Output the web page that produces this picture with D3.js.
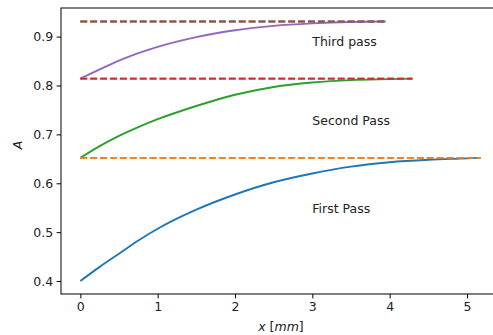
<!DOCTYPE html>
<html>
<head>
<meta charset="utf-8">
<script src="https://cdn.jsdelivr.net/npm/d3@7"></script>
<style>
  body { margin: 0; background: #fff; }
  svg { font-family: "DejaVu Sans", sans-serif; }
</style>
</head>
<body>
<div id="chart"></div>
<script>
// Values
const firstX  = [0, 0.25, 0.5, 0.75, 1, 1.5, 2, 2.5, 3, 3.5, 4, 4.5, 5, 5.15];
const firstA  = [0.400, 0.429, 0.456, 0.483, 0.507, 0.546, 0.577, 0.602, 0.620, 0.634, 0.643, 0.648, 0.651, 0.652];
const secondX = [0, 0.25, 0.5, 0.75, 1, 1.5, 2, 2.5, 3, 3.5, 4, 4.3];
const secondA = [0.652, 0.676, 0.697, 0.715, 0.731, 0.758, 0.781, 0.797, 0.806, 0.811, 0.813, 0.814];
const thirdX  = [0, 0.25, 0.5, 0.75, 1, 1.5, 2, 2.5, 3, 3.5, 3.95];
const thirdA  = [0.814, 0.833, 0.851, 0.866, 0.879, 0.899, 0.913, 0.922, 0.927, 0.930, 0.931];

// dashed reference levels: value and end of the line
const levels    = [0.652, 0.814, 0.931];
const levelEnds = [5.18, 4.29, 3.95];

const passLabels = ["First Pass", "Second Pass", "Third pass"];
const labelX = [3, 3, 3];
const labelA = [0.54, 0.72, 0.88];

const xTicks = [0, 1, 2, 3, 4, 5];
const yTicks = [0.4, 0.5, 0.6, 0.7, 0.8, 0.9];

const curveColors = ["#1f77b4", "#2ca02c", "#9467bd"];
const levelColors = ["#ff7f0e", "#d62728", "#8c564b"];

const W = 493, H = 335;
const margin = { top: 8, right: -8, bottom: 41, left: 61 },
      width = W - margin.left - margin.right,
      height = H - margin.top - margin.bottom;

const svg = d3.select("#chart")
  .append("svg")
  .attr("width", W)
  .attr("height", H)
  .append("g")
  .attr("transform", `translate(${margin.left},${margin.top})`);

const x = d3.scaleLinear().domain([-0.25, 5.44]).range([0, width]);
const y = d3.scaleLinear().domain([0.3735, 0.9585]).range([height, 0]);

const line = d3.line()
  .x(d => x(d[0]))
  .y(d => y(d[1]))
  .curve(d3.curveMonotoneX);

// horizontal dashed levels
levels.forEach((v, i) => {
  svg.append("line")
    .attr("x1", x(0))
    .attr("x2", x(levelEnds[i]))
    .attr("y1", y(v))
    .attr("y2", y(v))
    .attr("stroke", levelColors[i])
    .attr("stroke-width", 1.9)
    .attr("stroke-dasharray", "6.9,3");
});

// the three passes
const passes = [[firstX, firstA], [secondX, secondA], [thirdX, thirdA]];
passes.forEach(([xs, as], i) => {
  svg.append("path")
    .datum(xs.map((v, j) => [v, as[j]]))
    .attr("d", line)
    .attr("fill", "none")
    .attr("stroke", curveColors[i])
    .attr("stroke-width", 1.9);
});

// redraw the dashes on top where they overlap the curve ends
levels.forEach((v, i) => {
  svg.append("line")
    .attr("x1", x(0))
    .attr("x2", x(levelEnds[i]))
    .attr("y1", y(v))
    .attr("y2", y(v))
    .attr("stroke", levelColors[i])
    .attr("stroke-width", 1.9)
    .attr("stroke-dasharray", "6.9,3");
});

passLabels.forEach((t, i) => {
  svg.append("text")
    .attr("x", x(labelX[i]))
    .attr("y", y(labelA[i]))
    .attr("font-size", "12.5px")
    .attr("fill", "#222")
    .text(t);
});

// axes
const xAxis = svg.append("g")
  .attr("transform", `translate(0,${height})`)
  .call(d3.axisBottom(x).tickValues(xTicks).tickFormat(d3.format("d")).tickSize(4.4).tickPadding(3.5));

const yAxis = svg.append("g")
  .call(d3.axisLeft(y).tickValues(yTicks).tickFormat(d3.format(".1f")).tickSize(4.4).tickPadding(3.5));

[xAxis, yAxis].forEach(g => {
  g.select(".domain").remove();
  g.selectAll("line").attr("stroke", "#000").attr("stroke-width", 1);
  g.selectAll("text").attr("font-size", "12.5px").attr("fill", "#222")
    .attr("font-family", "DejaVu Sans, sans-serif");
});

// frame
svg.append("rect")
  .attr("x", 0)
  .attr("y", 0)
  .attr("width", width)
  .attr("height", height)
  .attr("fill", "none")
  .attr("stroke", "#000")
  .attr("stroke-width", 1);

// axis labels
const xl = svg.append("text")
  .attr("x", width / 2)
  .attr("y", height + 37)
  .attr("text-anchor", "middle")
  .attr("font-size", "12.5px")
  .attr("fill", "#222");
xl.append("tspan").attr("font-style", "italic").text("x");
xl.append("tspan").text(" [");
xl.append("tspan").attr("font-style", "italic").text("mm");
xl.append("tspan").text("]");

svg.append("text")
  .attr("x", -height / 2 + 6)
  .attr("y", -margin.left + 22)
  .attr("text-anchor", "middle")
  .attr("transform", "rotate(-90)")
  .attr("font-size", "12.5px")
  .attr("font-style", "italic")
  .attr("fill", "#222")
  .text("A");
</script>
</body>
</html>
